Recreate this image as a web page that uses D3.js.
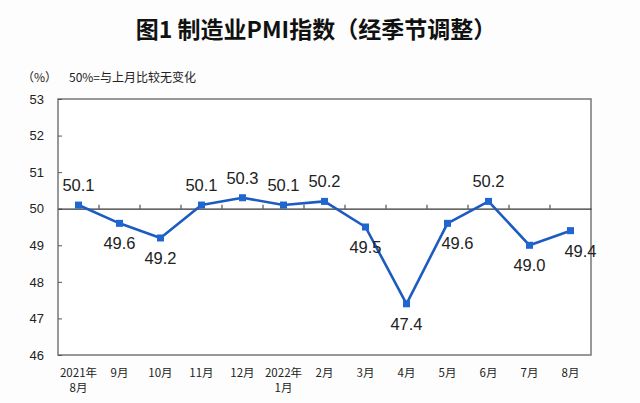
<!DOCTYPE html>
<html><head><meta charset="utf-8">
<script src="https://cdn.jsdelivr.net/npm/d3@7"></script>
<style>body{margin:0;background:#fff;}svg{display:block;}</style>
</head><body><svg id="c" width="640" height="403"></svg>
<script>
const categories = ["2021年\n8月","9月","10月","11月","12月","2022年\n1月","2月","3月","4月","5月","6月","7月","8月"];
const pmi = [50.1,49.6,49.2,50.1,50.3,50.1,50.2,49.5,47.4,49.6,50.2,49.0,49.4];
const yTicks = [46,47,48,49,50,51,52,53];
const titleText = "图1  制造业PMI指数（经季节调整）";
const unitText = "（%）";
const noteText = "50%=与上月比较无变化";

const svg = d3.select("#c");
const L=58, R=591, T=99, B=355;
const x = d3.scaleBand().domain(categories).range([L,R]).padding(0);
const y = d3.scaleLinear().domain([46,53]).range([B,T]);
const cjk = "'Noto Sans CJK SC', 'Liberation Sans', sans-serif";
const lat = "'Liberation Sans', Arial, sans-serif";

svg.append("rect").attr("width",640).attr("height",403).attr("fill","#fdfdfd");
svg.append("text").attr("x",316).attr("y",38).attr("text-anchor","middle")
  .attr("font-family",cjk).attr("font-size",23).attr("font-weight","bold").attr("fill","#111").text(titleText);
svg.append("text").attr("x",22).attr("y",82).attr("font-family",cjk).attr("font-size",12).attr("fill","#222").text(unitText);
svg.append("text").attr("x",69).attr("y",82).attr("font-family",cjk).attr("font-size",12).attr("fill","#222").text(noteText);

svg.append("rect").attr("x",L).attr("y",T).attr("width",R-L).attr("height",B-T)
  .attr("fill","#fff").attr("stroke","#777").attr("stroke-width",1.5);

// y axis
const yAxis = d3.axisLeft(y).tickValues(yTicks).tickSize(-4).tickPadding(14).tickFormat(d3.format("d"));
const gy = svg.append("g").attr("transform",`translate(${L},0)`).call(yAxis);
gy.select(".domain").remove();
gy.selectAll("line").attr("stroke","#555");
gy.selectAll("text").attr("font-family",lat).attr("font-size",13).attr("fill","#222");

// 50 reference line with ticks at category boundaries
const y50 = y(50);
const g50 = svg.append("g").attr("transform",`translate(0,${y50})`);
const xb = d3.axisTop(x).tickSize(0).tickFormat("");
g50.call(xb);
g50.select(".domain").attr("stroke","#333").attr("stroke-width",1.2);
g50.selectAll(".tick").remove();
g50.selectAll("line.b").data(categories.slice(1)).enter().append("line")
  .attr("x1",d=>x(d)).attr("x2",d=>x(d)).attr("y1",0).attr("y2",-4).attr("stroke","#333");

// x labels
const gx = svg.append("g");
categories.forEach(c=>{
  const lines = c.split("\n");
  const t = gx.append("text").attr("x",x(c)+x.bandwidth()/2).attr("y",377)
    .attr("text-anchor","middle").attr("font-family",cjk).attr("font-size",11.5).attr("fill","#222");
  lines.forEach((ln,i)=>t.append("tspan").attr("x",x(c)+x.bandwidth()/2).attr("dy",i?15:0).text(ln));
});

const cx = (d,i)=>x(categories[i])+x.bandwidth()/2;
const line = d3.line().x(cx).y(d=>y(d));
svg.append("path").datum(pmi).attr("d",line).attr("fill","none")
  .attr("stroke","#1c5cc0").attr("stroke-width",2.6).attr("stroke-linejoin","round");
svg.selectAll("rect.m").data(pmi).enter().append("rect")
  .attr("x",(d,i)=>cx(d,i)-3.5).attr("y",d=>y(d)-3.5).attr("width",7).attr("height",7).attr("fill","#1f66d0");

svg.selectAll("text.v").data(pmi).enter().append("text")
  .attr("x",(d,i)=>cx(d,i)+((d<50 && i>0 && pmi[i-1]<d)?10:0))
  .attr("y",d=>d>=50? y(d)-14 : y(d)+26)
  .attr("text-anchor","middle").attr("font-family",lat).attr("font-size",16.5).attr("fill","#222")
  .text(d=>d.toFixed(1));
</script></body></html>
